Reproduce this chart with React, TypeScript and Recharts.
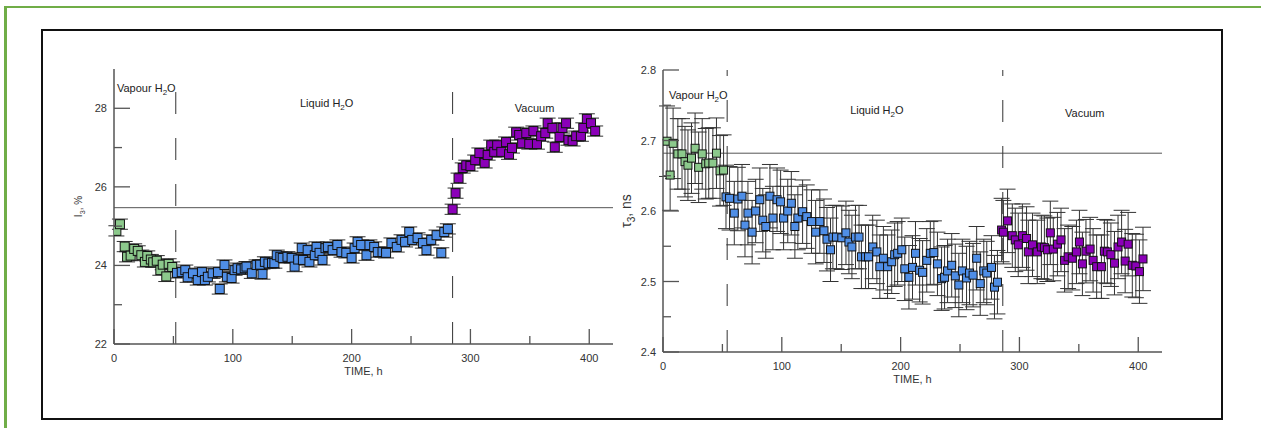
import { ScatterChart, Scatter, XAxis, YAxis, ErrorBar, ReferenceLine, ReferenceDot } from "recharts";

// ---- I3 panel (left) ----
const vapourTimeL = [2, 5, 9, 11, 14, 17, 20, 23, 26, 28, 31, 33, 36, 39, 41, 44, 46, 49];
const vapourI3 = [24.88, 25.05, 24.48, 24.22, 24.25, 24.42, 24.37, 24.26, 24.09, 24.24, 24.15, 24.08, 24.12, 23.88, 24.02, 23.72, 24.04, 23.96];

const liquidTimeL = [53, 57, 60, 62, 66.5, 70.5, 74, 76.5, 79, 83, 87.5, 89, 93, 95, 99, 101.5, 104, 107, 110, 111.5, 116, 120, 123, 125, 127, 130, 133, 135, 137, 140, 142, 146, 149.5, 152, 155, 158, 159, 163, 164.5, 169, 170.5, 173, 175.5, 178, 180, 184, 188, 191.5, 195.5, 200, 202.5, 205, 208, 212.5, 215, 219, 222, 226, 229, 233.5, 238, 242, 245, 248.5, 251, 255.5, 260, 263, 267, 271.5, 275.5, 278, 281];
const liquidI3 = [23.81, 23.83, 23.88, 23.7, 23.8, 23.63, 23.83, 23.63, 23.71, 23.8, 23.83, 23.4, 24.01, 23.71, 23.68, 23.88, 23.93, 23.9, 23.93, 23.97, 23.8, 24.01, 24.02, 23.78, 24.09, 24.05, 24.06, 24.06, 24.26, 24.22, 24.19, 24.22, 24.19, 23.97, 24.15, 24.44, 24.14, 24.39, 24.09, 24.26, 24.47, 24.32, 24.14, 24.44, 24.47, 24.39, 24.52, 24.34, 24.32, 24.19, 24.44, 24.6, 24.52, 24.26, 24.52, 24.47, 24.34, 24.34, 24.32, 24.57, 24.47, 24.65, 24.6, 24.85, 24.65, 24.7, 24.57, 24.39, 24.65, 24.77, 24.32, 24.85, 24.93];

const vacuumTimeL = [285, 287.5, 290, 293.5, 296.5, 300, 304, 307.5, 312, 314.5, 317.5, 320, 322.5, 326, 330, 332.5, 335, 338.5, 341, 343.5, 347, 349.5, 353, 356, 359.5, 363, 365, 369, 371, 375, 377.5, 380.5, 382.5, 386, 389, 393, 395, 398, 401.5, 405];
const vacuumI3 = [25.43, 25.84, 26.22, 26.48, 26.55, 26.53, 26.68, 26.86, 26.61, 26.81, 27.06, 26.89, 27.06, 26.89, 27.14, 26.83, 26.99, 27.39, 27.32, 27.11, 27.37, 27.09, 27.42, 27.09, 27.29, 27.37, 27.62, 27.5, 27.01, 27.27, 27.5, 27.62, 27.19, 27.17, 27.29, 27.29, 27.5, 27.73, 27.62, 27.42];

// ---- tau3 panel (right) ----
const vapourTimeR = [3.4, 6, 8.5, 12.5, 16, 18.5, 21, 24, 27, 30, 33, 36, 38.5, 42, 45, 48, 51];
const vapourTau = [2.699, 2.651, 2.696, 2.681, 2.681, 2.67, 2.665, 2.675, 2.689, 2.662, 2.681, 2.667, 2.668, 2.668, 2.682, 2.657, 2.658];

const liquidTimeR = [53, 56, 60, 63, 66.5, 69, 71.5, 75, 78, 81.5, 84, 86.5, 90, 92.5, 96, 99, 101.5, 105, 108, 111, 113.5, 117.5, 121, 125, 128.5, 132, 135.5, 138, 141, 143, 146, 150.5, 154, 156.5, 159, 162, 165, 167, 170.5, 173, 176.5, 180, 182.5, 185.5, 189, 192.5, 195, 197.5, 201, 203.5, 207, 210, 212.5, 216, 218.5, 222, 225, 228, 231, 234.5, 237, 239.5, 243, 246, 249, 252, 255.5, 258, 261, 264, 267, 270, 272.5, 276.5, 279, 281.5];
const liquidTau = [2.62, 2.618, 2.597, 2.617, 2.621, 2.58, 2.597, 2.57, 2.6, 2.616, 2.587, 2.578, 2.621, 2.59, 2.616, 2.613, 2.59, 2.6, 2.611, 2.578, 2.59, 2.599, 2.592, 2.585, 2.57, 2.585, 2.572, 2.56, 2.545, 2.563, 2.563, 2.562, 2.569, 2.556, 2.549, 2.563, 2.563, 2.535, 2.535, 2.535, 2.549, 2.542, 2.521, 2.533, 2.521, 2.528, 2.538, 2.54, 2.545, 2.518, 2.506, 2.52, 2.54, 2.516, 2.513, 2.53, 2.54, 2.541, 2.525, 2.504, 2.506, 2.515, 2.523, 2.508, 2.495, 2.515, 2.505, 2.512, 2.509, 2.533, 2.497, 2.515, 2.512, 2.52, 2.492, 2.499];

const vacuumTimeR = [285, 286.5, 290, 294, 296.5, 299, 302.5, 306, 307.5, 311, 315, 318.5, 321, 323.5, 326, 328.5, 332, 335, 338, 341, 344.5, 348, 350.5, 353, 356, 359.5, 362, 365, 369, 371.5, 374, 377, 380, 383, 386, 389, 391.5, 395, 398, 401, 404];
const vacuumTau = [2.573, 2.57, 2.586, 2.565, 2.559, 2.552, 2.565, 2.561, 2.542, 2.552, 2.542, 2.549, 2.548, 2.545, 2.569, 2.546, 2.553, 2.559, 2.53, 2.535, 2.533, 2.542, 2.556, 2.525, 2.543, 2.546, 2.53, 2.521, 2.521, 2.543, 2.542, 2.538, 2.526, 2.549, 2.556, 2.529, 2.553, 2.523, 2.522, 2.514, 2.532];

const timeTicks = [0, 50, 100, 150, 200, 250, 300, 350, 400];
const i3Ticks = [22, 23, 24, 25, 26, 27, 28];
const tauTicks = [2.4, 2.45, 2.5, 2.55, 2.6, 2.65, 2.7, 2.75, 2.8];

const GREEN = "#8cc98c";
const BLUE = "#4f8ee6";
const PURPLE = "#8b00b8";
const AXIS = "#555";
const FONT = "'Liberation Sans', Arial, sans-serif";

function zip(t: number[], v: number[], err: number) {
  const n = Math.min(t.length, v.length);
  const out = [];
  for (let i = 0; i < n; i++) out.push({ t: t[i], v: v[i], e: err });
  return out;
}

const isMajor = (v: number, step: number) => Math.abs(v / step - Math.round(v / step)) < 1e-6;

const BottomTick = ({ x, y, payload }: any) => {
  const major = isMajor(payload.value, 100);
  return (
    <g>
      <line x1={x} y1={y} x2={x} y2={y - (major ? 15 : 8)} stroke={AXIS} strokeWidth={1.3} />
      {major && (
        <text x={x} y={y + 18} textAnchor="middle" fontSize={11} fill="#333" fontFamily={FONT}>
          {payload.value}
        </text>
      )}
    </g>
  );
};

const TopTick = ({ x, y, payload }: any) => {
  const major = isMajor(payload.value, 100);
  return <line x1={x} y1={y} x2={x} y2={y + (major ? 15 : 8)} stroke={AXIS} strokeWidth={1.3} />;
};

const makeLeftTick = (step: number, fmt: (v: number) => string) => ({ x, y, payload }: any) => {
  const major = isMajor(payload.value, step);
  return (
    <g>
      <line x1={x} y1={y} x2={x + (major ? 16 : 8)} y2={y} stroke={AXIS} strokeWidth={1.3} />
      {major && (
        <text x={x - 7} y={y + 4} textAnchor="end" fontSize={11} fill="#333" fontFamily={FONT}>
          {fmt(payload.value)}
        </text>
      )}
    </g>
  );
};

const makeRightTick = (step: number) => ({ x, y, payload }: any) => {
  const major = isMajor(payload.value, step);
  return <line x1={x} y1={y} x2={x - (major ? 15 : 8)} y2={y} stroke={AXIS} strokeWidth={1.3} />;
};

const TimeLabel = ({ viewBox }: any) => (
  <text x={viewBox.x + viewBox.width / 2} y={viewBox.y + 31} textAnchor="middle" fontSize={11} fill="#333" fontFamily={FONT}>
    TIME, h
  </text>
);

const makeYLabel = (sym: string, unit: string, size: number) => ({ viewBox }: any) => {
  const cx = viewBox.x + viewBox.width - 32;
  const cy = viewBox.y + viewBox.height / 2;
  return (
    <text x={cx} y={cy} transform={`rotate(-90, ${cx}, ${cy})`} textAnchor="middle" fontSize={size} fill="#333" fontFamily={FONT}>
      {sym}
      <tspan dy={size * 0.3} fontSize={size * 0.72}>3</tspan>
      <tspan dy={-size * 0.3}>{unit}</tspan>
    </text>
  );
};

const makeNote = (before: string, sub: string, after: string, anchor: string) => ({ viewBox }: any) => (
  <text x={viewBox.x} y={viewBox.y} textAnchor={anchor} fontSize={11} fill="#222" fontFamily={FONT}>
    {before}
    {sub && <tspan dy={3} fontSize={8}>{sub}</tspan>}
    {sub && <tspan dy={-3}>{after}</tspan>}
  </text>
);

const squareShape = (fill: string, size: number) => (p: any) => (
  <rect x={p.cx - size / 2} y={p.cy - size / 2} width={size} height={size} fill={fill} stroke="#111" strokeWidth={1} />
);

type PanelProps = {
  left: number;
  top: number;
  width: number;
  height: number;
  margin: { top: number; right: number; bottom: number; left: number };
  yAxisWidth: number;
  yDomain: [number, number];
  yTicks: number[];
  yStep: number;
  yFmt: (v: number) => string;
  yLabel: any;
  series: { data: any[]; fill: string }[];
  markSize: number;
  dashX: [number, number];
  refY: number;
  notes: { x: number; y: number; content: any }[];
};

function Panel(p: PanelProps) {
  return (
    <div style={{ position: "absolute", left: p.left, top: p.top }}>
      <ScatterChart width={p.width} height={p.height} margin={p.margin} style={{ fontFamily: FONT }}>
        <XAxis
          xAxisId="b"
          dataKey="t"
          type="number"
          orientation="bottom"
          domain={[0, 420]}
          allowDataOverflow
          ticks={timeTicks}
          interval={0}
          height={40}
          tickSize={0}
          tickMargin={0}
          tickLine={false}
          tick={<BottomTick />}
          axisLine={{ stroke: AXIS, strokeWidth: 1.5 }}
          label={<TimeLabel />}
        />
        <XAxis
          xAxisId="top"
          type="number"
          orientation="top"
          domain={[0, 420]}
          allowDataOverflow
          ticks={timeTicks}
          interval={0}
          height={0}
          tickSize={0}
          tickMargin={0}
          tickLine={false}
          tick={<TopTick />}
          axisLine={{ stroke: AXIS, strokeWidth: 1.5 }}
        />
        <YAxis
          yAxisId="l"
          dataKey="v"
          type="number"
          domain={p.yDomain}
          allowDataOverflow
          ticks={p.yTicks}
          interval={0}
          width={p.yAxisWidth}
          tickSize={0}
          tickMargin={0}
          tickLine={false}
          tick={makeLeftTick(p.yStep, p.yFmt)}
          axisLine={{ stroke: AXIS, strokeWidth: 1.5 }}
          label={p.yLabel}
        />
        <YAxis
          yAxisId="r"
          type="number"
          orientation="right"
          domain={p.yDomain}
          allowDataOverflow
          ticks={p.yTicks}
          interval={0}
          width={0}
          tickSize={0}
          tickMargin={0}
          tickLine={false}
          tick={makeRightTick(p.yStep)}
          axisLine={{ stroke: AXIS, strokeWidth: 1.5 }}
        />
        <ReferenceLine xAxisId="b" yAxisId="l" y={p.refY} stroke={AXIS} strokeWidth={1} />
        <ReferenceLine xAxisId="b" yAxisId="l" x={p.dashX[0]} stroke="#333" strokeWidth={1} strokeDasharray="22 24" />
        <ReferenceLine xAxisId="b" yAxisId="l" x={p.dashX[1]} stroke="#333" strokeWidth={1} strokeDasharray="22 24" />
        {p.series.map((s, i) => (
          <Scatter
            key={i}
            xAxisId="b"
            yAxisId="l"
            data={s.data}
            dataKey="v"
            isAnimationActive={false}
            shape={squareShape(s.fill, p.markSize)}
          >
            <ErrorBar dataKey="e" direction="y" width={8} stroke="#333" strokeWidth={1} isAnimationActive={false} />
          </Scatter>
        ))}
        {p.notes.map((n, i) => (
          <ReferenceDot
            key={"n" + i}
            xAxisId="b"
            yAxisId="l"
            x={n.x}
            y={n.y}
            r={0}
            fill="none"
            stroke="none"
            label={n.content}
          />
        ))}
      </ScatterChart>
    </div>
  );
}

export default function App() {
  return (
    <div style={{ position: "absolute", left: 0, top: 0, width: 1261, height: 428, background: "#fff", overflow: "hidden" }}>
      <div
        style={{
          position: "absolute",
          left: 4,
          top: 6,
          width: 1261,
          height: 430,
          borderTop: "2px solid #70ad47",
          borderLeft: "3px solid #70ad47",
        }}
      />
      <div
        style={{
          position: "absolute",
          left: 41,
          top: 29,
          width: 1178,
          height: 387,
          border: "2px solid #111",
        }}
      />
      <Panel
        left={60}
        top={40}
        width={570}
        height={360}
        margin={{ top: 29, right: 17, bottom: 16, left: 0 }}
        yAxisWidth={54}
        yDomain={[22, 29]}
        yTicks={i3Ticks}
        yStep={2}
        yFmt={(v) => String(v)}
        yLabel={makeYLabel("I", ", %", 10)}
        markSize={9}
        dashX={[52, 285]}
        refY={25.47}
        series={[
          { data: zip(vapourTimeL, vapourI3, 0.13), fill: GREEN },
          { data: zip(liquidTimeL, liquidI3, 0.13), fill: BLUE },
          { data: zip(vacuumTimeL, vacuumI3, 0.13), fill: PURPLE },
        ]}
        notes={[
          { x: 2.5, y: 28.41, content: makeNote("Vapour H", "2", "O", "start") },
          { x: 179, y: 28.03, content: makeNote("Liquid H", "2", "O", "middle") },
          { x: 354, y: 27.9, content: makeNote("Vacuum", "", "", "middle") },
        ]}
      />
      <Panel
        left={610}
        top={40}
        width={570}
        height={370}
        margin={{ top: 30, right: 18, bottom: 18, left: 0 }}
        yAxisWidth={53}
        yDomain={[2.4, 2.8]}
        yTicks={tauTicks}
        yStep={0.1}
        yFmt={(v) => v.toFixed(1)}
        yLabel={makeYLabel("τ", ", ns", 14)}
        markSize={8}
        dashX={[54, 286]}
        refY={2.682}
        series={[
          { data: zip(vapourTimeR, vapourTau, 0.05), fill: GREEN },
          { data: zip(liquidTimeR, liquidTau, 0.045), fill: BLUE },
          { data: zip(vacuumTimeR, vacuumTau, 0.045), fill: PURPLE },
        ]}
        notes={[
          { x: 5, y: 2.759, content: makeNote("Vapour H", "2", "O", "start") },
          { x: 180, y: 2.738, content: makeNote("Liquid H", "2", "O", "middle") },
          { x: 355, y: 2.733, content: makeNote("Vacuum", "", "", "middle") },
        ]}
      />
    </div>
  );
}
